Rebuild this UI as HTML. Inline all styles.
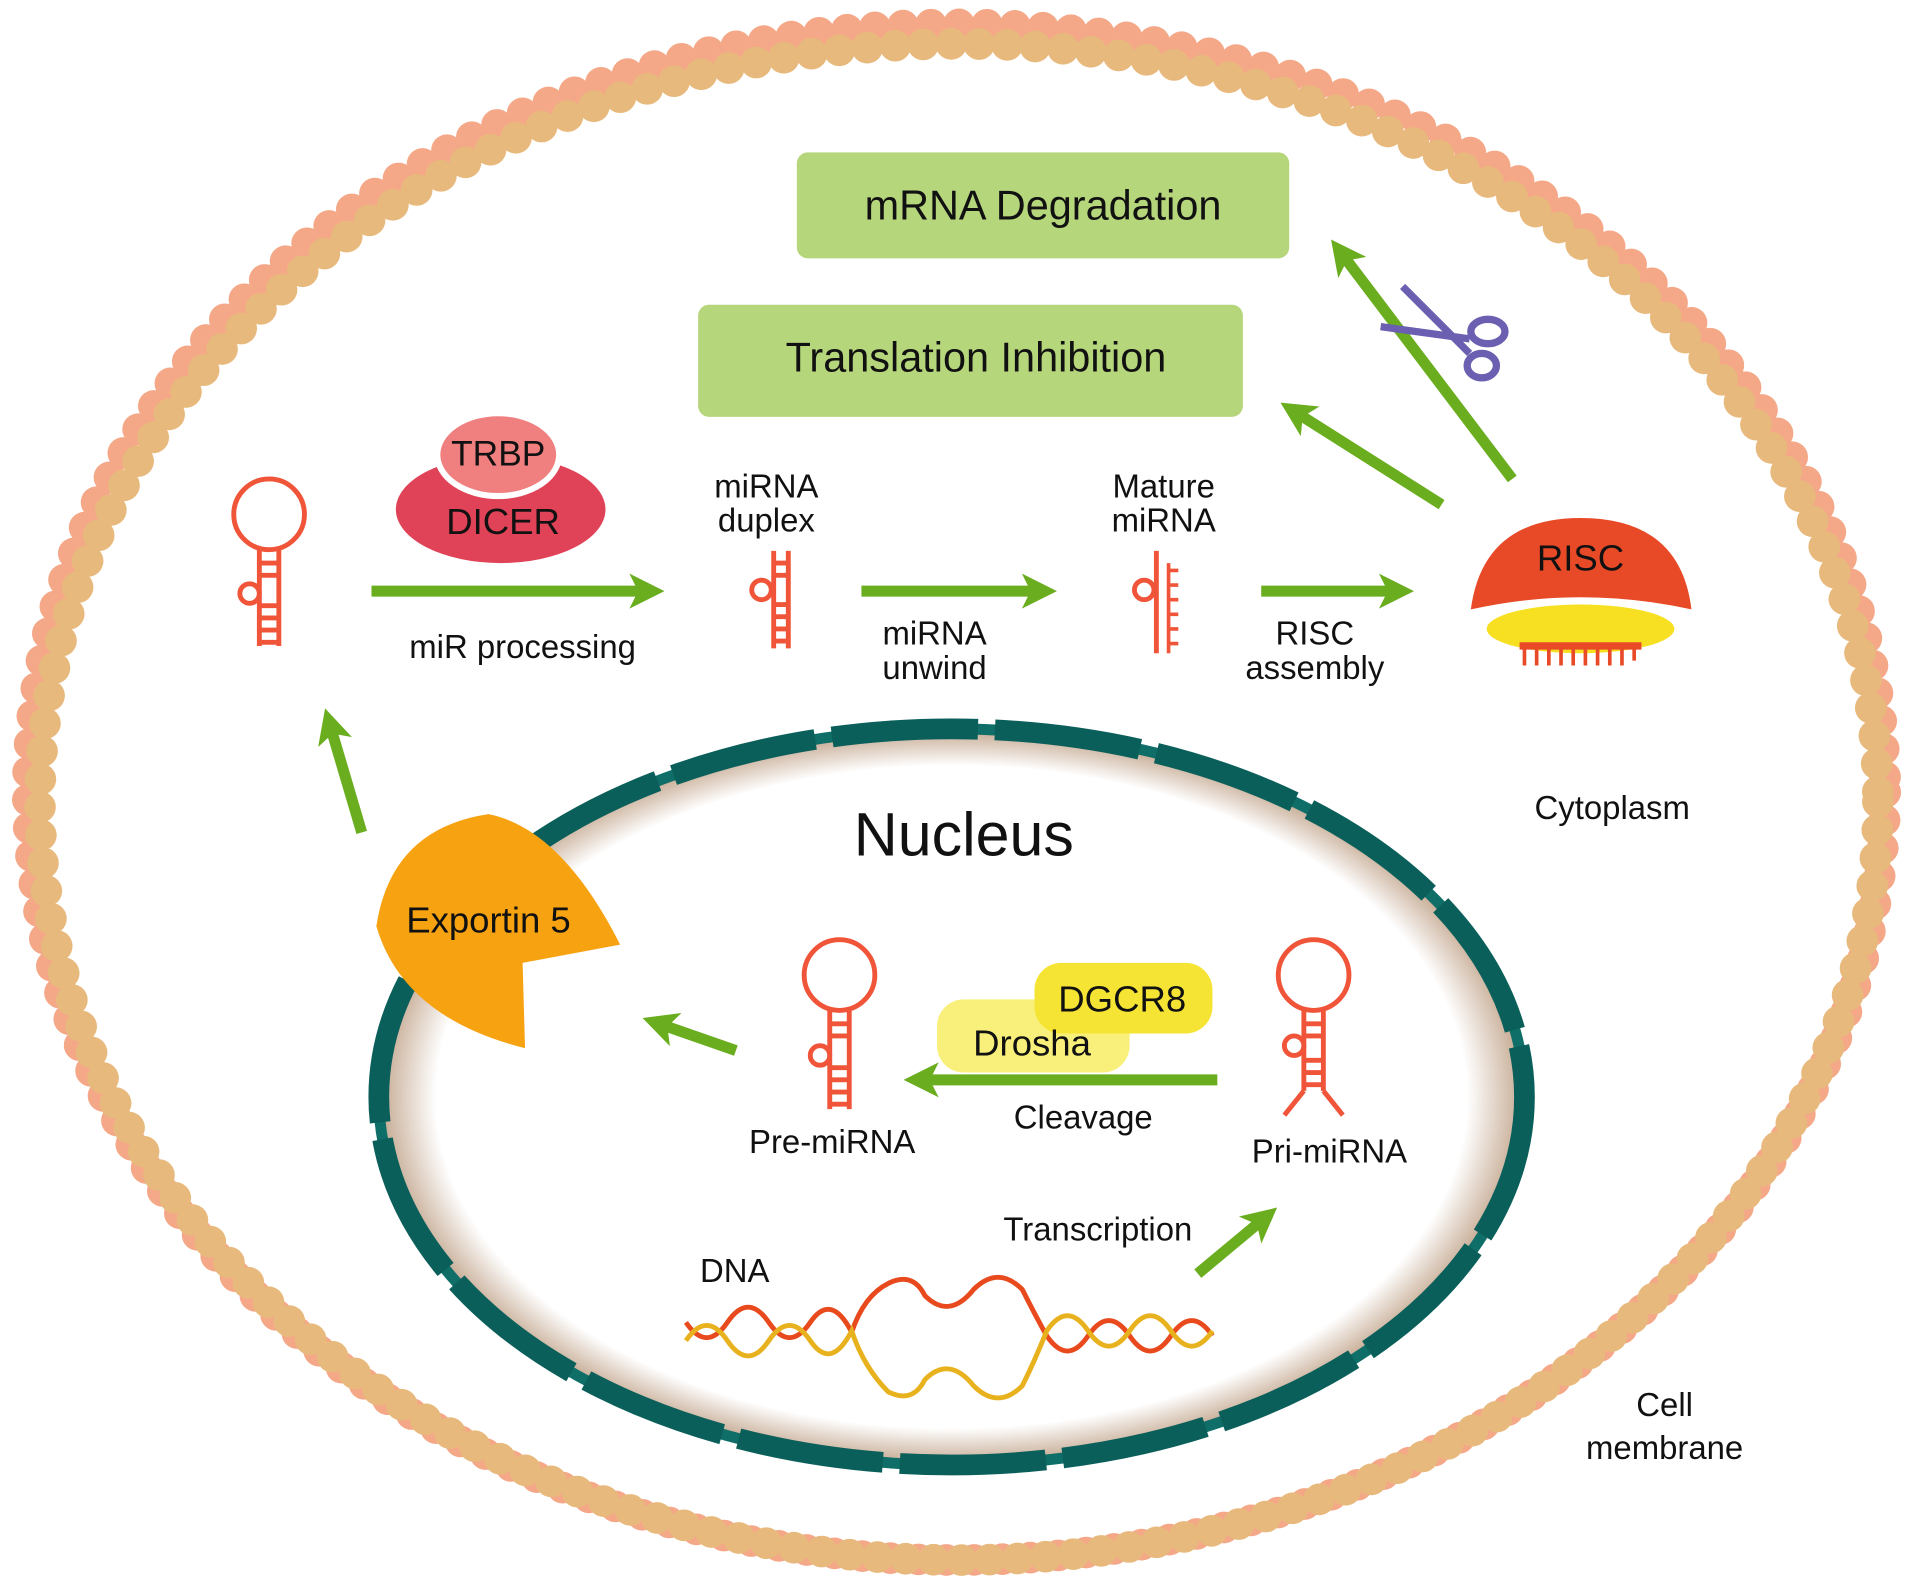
<!DOCTYPE html>
<html><head><meta charset="utf-8"><style>
html,body{margin:0;padding:0;background:#fff;width:1913px;height:1582px;overflow:hidden}
svg{display:block}
text{font-family:"Liberation Sans",sans-serif;fill:#111}
</style></head><body>
<svg width="1913" height="1582" viewBox="0 0 1568 1298" xmlns="http://www.w3.org/2000/svg">
<defs>
<marker id="ah" viewBox="0 0 10 10" refX="5" refY="5" markerWidth="3.2" markerHeight="3.2" orient="auto">
<path d="M0,0 L10,5 L0,10 L2.5,5 z" fill="#6aad1f"/></marker>
<radialGradient id="ng" cx="0.5" cy="0.5" r="0.5">
<stop offset="0.9" stop-color="#fff"/><stop offset="1" stop-color="#c4a890"/></radialGradient>
</defs>
<ellipse cx="784" cy="650" rx="762" ry="630" fill="none" stroke="#f4a888" stroke-width="26" stroke-dasharray="0 23" stroke-linecap="round"/>
<ellipse cx="786" cy="658" rx="754" ry="622" fill="none" stroke="#e8b97c" stroke-width="26" stroke-dasharray="0 23" stroke-linecap="round"/>
<ellipse cx="780" cy="900" rx="470" ry="302" fill="url(#ng)" stroke="#0f6e68" stroke-width="9"/>
<ellipse cx="780" cy="900" rx="470" ry="302" fill="none" stroke="#0b5f5a" stroke-width="17" stroke-dasharray="120 14"/>
<text x="790" y="702" font-size="50" text-anchor="middle">Nucleus</text>
<rect x="653" y="125" width="404" height="87" rx="9" fill="#b6d67c"/>
<text x="855" y="180" font-size="34" text-anchor="middle">mRNA  Degradation</text>
<rect x="572" y="250" width="447" height="92" rx="9" fill="#b6d67c"/>
<text x="800" y="305" font-size="34" text-anchor="middle">Translation Inhibition</text>
<g stroke="#6aad1f" stroke-width="9" fill="none" marker-end="url(#ah)">
<line x1="304" y1="485" x2="530" y2="485"/>
<line x1="706" y1="485" x2="852" y2="485"/>
<line x1="1034" y1="485" x2="1145" y2="485"/>
<line x1="1182" y1="414" x2="1062" y2="338"/>
<line x1="1240" y1="393" x2="1100" y2="208"/>
<line x1="296" y1="683" x2="270" y2="595"/>
<line x1="603" y1="862" x2="540" y2="840"/>
<line x1="998" y1="886" x2="755" y2="886"/>
<line x1="982" y1="1045" x2="1036" y2="1000"/>
</g>
<g stroke="#6a5fb0" stroke-width="6" fill="none">
<line x1="1132" y1="268" x2="1205" y2="278"/><line x1="1150" y1="235" x2="1205" y2="290"/>
<ellipse cx="1220" cy="272" rx="14" ry="10"/><ellipse cx="1215" cy="300" rx="12" ry="10"/>
</g>
<ellipse cx="410" cy="418" rx="86" ry="44" fill="#e04358"/>
<ellipse cx="408" cy="373" rx="50" ry="34" fill="#f07f7f" stroke="#fff" stroke-width="5"/>
<text x="408" y="382" font-size="29" text-anchor="middle">TRBP</text>
<text x="412" y="438" font-size="30" text-anchor="middle">DICER</text>
<g stroke="#f0553a" stroke-width="4" fill="none">
<circle cx="220" cy="422" r="29"/><line x1="212" y1="450" x2="212" y2="530"/><line x1="228" y1="450" x2="228" y2="530"/>
<circle cx="204" cy="487" r="8"/>
<path d="M212 462h16M212 472h16M212 497h16M212 507h16M212 517h16M212 527h16"/>
<circle cx="688" cy="800" r="29"/><line x1="680" y1="828" x2="680" y2="910"/><line x1="696" y1="828" x2="696" y2="910"/>
<circle cx="672" cy="866" r="8"/>
<path d="M680 840h16M680 850h16M680 876h16M680 886h16M680 896h16M680 906h16"/>
<circle cx="1077" cy="800" r="29"/><line x1="1069" y1="828" x2="1069" y2="895"/><line x1="1085" y1="828" x2="1085" y2="895"/>
<circle cx="1061" cy="858" r="8"/>
<path d="M1069 840h16M1069 850h16M1069 870h16M1069 880h16M1069 890h16M1069 895l-16 20M1085 895l16 20"/>
<line x1="634" y1="452" x2="634" y2="532"/><line x1="646" y1="452" x2="646" y2="532"/><circle cx="624" cy="484" r="8"/>
<path d="M634 462h12M634 472h12M634 496h12M634 506h12M634 516h12M634 526h12"/>
<line x1="948" y1="452" x2="948" y2="536"/><circle cx="938" cy="484" r="8"/>
<path d="M958 462v74M958 468h8M958 480h8M958 492h8M958 504h8M958 516h8M958 528h8" stroke-width="3"/>
</g>
<path d="M1206 500 Q1216 425 1296 425 Q1378 425 1387 500 Q1296 480 1206 500z" fill="#e84a28"/>
<ellipse cx="1296" cy="516" rx="77" ry="20" fill="#f6e021"/>
<path d="M1246 530h100" stroke="#e84a28" stroke-width="6"/>
<path d="M1250 530v16M1260 530v16M1270 530v16M1280 530v16M1290 530v16M1300 530v16M1310 530v16M1320 530v16M1330 530v16M1340 530v12" stroke="#e84a28" stroke-width="3"/>
<text x="1296" y="468" font-size="30" text-anchor="middle">RISC</text>
<path d="M430 860 L428 790 L508 775 Q460 680 400 668 Q320 680 308 760 Q330 835 430 860z" fill="#f6a211"/>
<text x="400" y="765" font-size="30" text-anchor="middle">Exportin 5</text>
<rect x="768" y="820" width="158" height="60" rx="22" fill="#f8f07a"/>
<rect x="848" y="790" width="146" height="58" rx="22" fill="#f6e434"/>
<text x="920" y="830" font-size="30" text-anchor="middle">DGCR8</text>
<text x="846" y="866" font-size="30" text-anchor="middle">Drosha</text>
<!-- DNA -->
<g fill="none" stroke-width="4">
<path d="M562 1085 q17 25 34 0 q17 -25 34 0 q17 25 34 0 q17 -25 34 8 q10 -30 30 -40 q20 -10 30 10 q20 20 40 -5 q20 -20 40 0 q10 20 20 38 q17 25 34 0 q17 -25 34 0 q17 25 34 0 q17 -25 34 0" stroke="#e84a1e"/>
<path d="M562 1100 q17 -25 34 0 q17 25 34 0 q17 -25 34 0 q17 25 34 -8 q10 30 30 50 q20 10 30 -10 q20 -20 40 5 q20 20 40 0 q10 -20 20 -45 q17 -25 34 0 q17 25 34 0 q17 -25 34 0 q17 25 34 0" stroke="#e8b21e"/>
</g>
<g font-size="27" text-anchor="middle">
<text x="428" y="540">miR processing</text>
<text x="628" y="408">miRNA</text><text x="628" y="436">duplex</text>
<text x="766" y="529">miRNA</text><text x="766" y="557">unwind</text>
<text x="954" y="408">Mature</text><text x="954" y="436">miRNA</text>
<text x="1078" y="529">RISC</text><text x="1078" y="557">assembly</text>
<text x="1322" y="672">Cytoplasm</text>
<text x="1365" y="1162">Cell</text><text x="1365" y="1197">membrane</text>
<text x="682" y="946">Pre-miRNA</text>
<text x="888" y="926">Cleavage</text>
<text x="1090" y="954">Pri-miRNA</text>
<text x="900" y="1018">Transcription</text>
<text x="602" y="1052">DNA</text>
</g>
</svg>
</body></html>
